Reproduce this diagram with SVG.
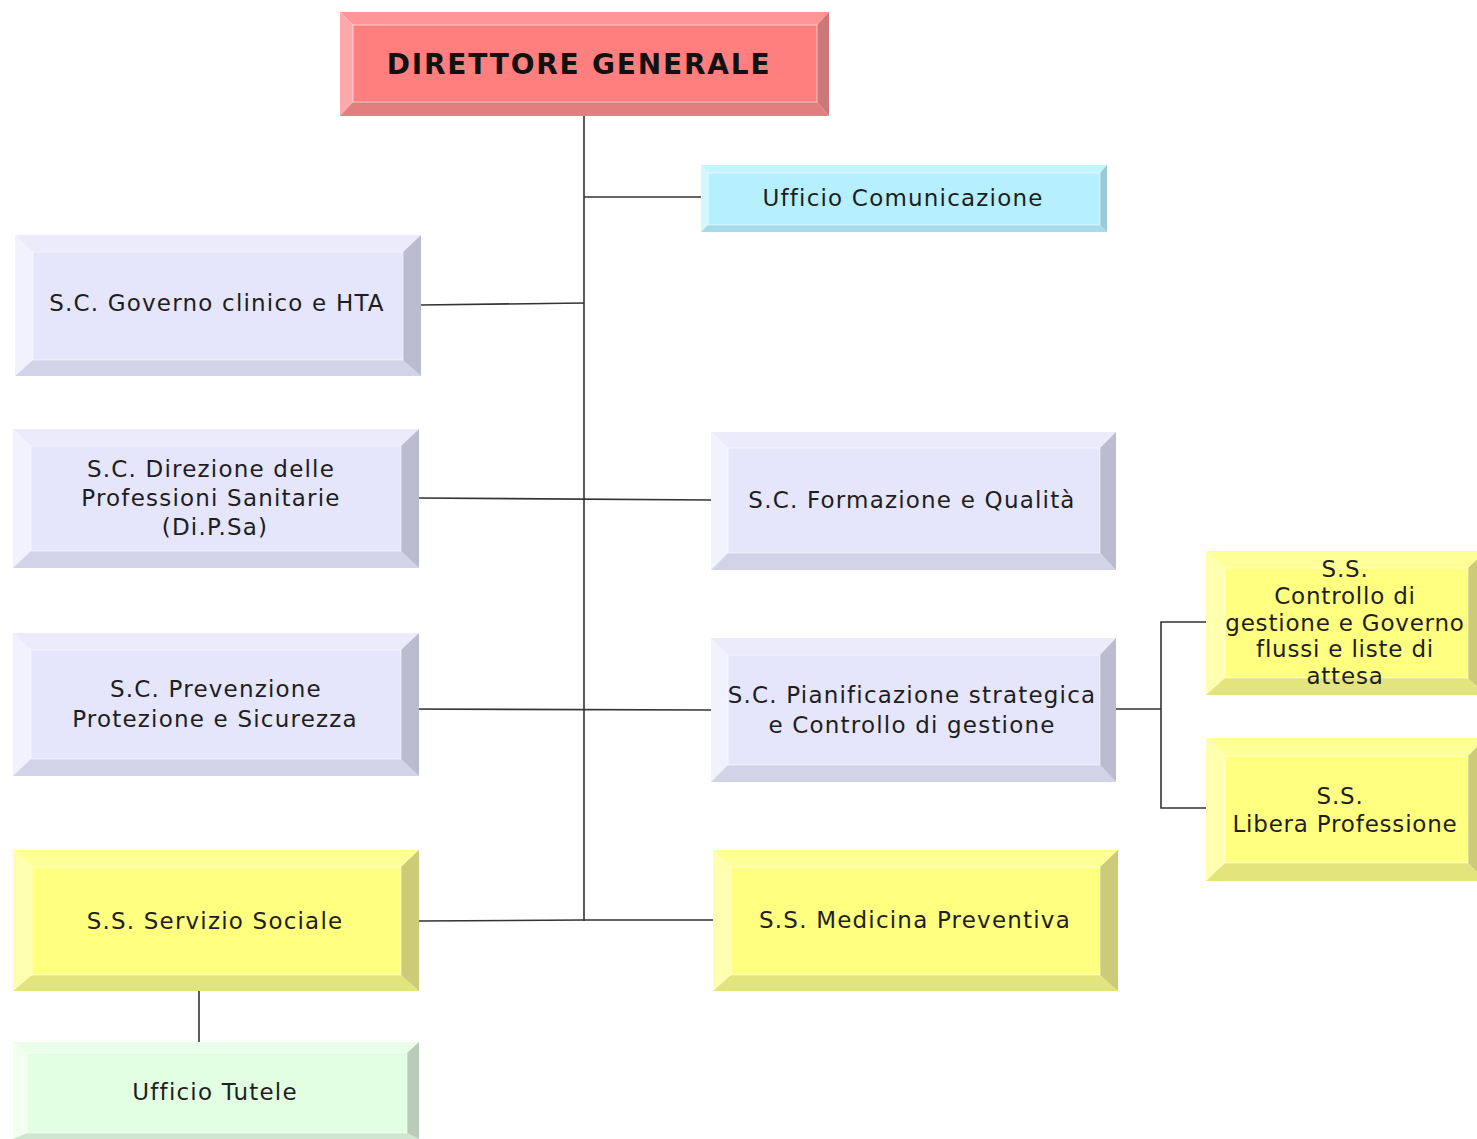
<svg xmlns="http://www.w3.org/2000/svg" width="1477" height="1139" viewBox="0 0 1477 1139">
<style>
text{font-family:"DejaVu Sans","Verdana",sans-serif;font-size:23px;letter-spacing:1.2px;fill:#1e1e1e;text-anchor:middle}
.dg{font-weight:bold;font-size:28px;letter-spacing:1.8px;fill:#111}
.sm{letter-spacing:0.8px}
.ln{stroke:#333;stroke-width:1.6;fill:none}
.hl{fill:none;stroke:#ffffff;stroke-opacity:0.55;stroke-width:1}
.red .f{fill:#ff7f7f}.red .t{fill:#ff9696}.red .l{fill:#ffaaaa}.red .b{fill:#e27e7e}.red .r{fill:#cc7878}
.lav .f{fill:#e5e5fb}.lav .t{fill:#ebebfc}.lav .l{fill:#f2f2fe}.lav .b{fill:#d2d2e8}.lav .r{fill:#bcbcd0}
.cyan .f{fill:#b6f0ff}.cyan .t{fill:#c4f4ff}.cyan .l{fill:#d4f7ff}.cyan .b{fill:#a6dcea}.cyan .r{fill:#9bcad6}
.yel .f{fill:#ffff80}.yel .t{fill:#ffff98}.yel .l{fill:#ffffb0}.yel .b{fill:#e4e47c}.yel .r{fill:#cccc78}
.grn .f{fill:#e3ffe3}.grn .t{fill:#eaffea}.grn .l{fill:#f0fff0}.grn .b{fill:#d0e6d0}.grn .r{fill:#b9ccb9}
</style>
<g id="connectors">
<path class="ln" d="M584 116V921"/>
<path class="ln" d="M584 197H701"/>
<path class="ln" d="M421 305L584 303"/>
<path class="ln" d="M419 498L711 500"/>
<path class="ln" d="M403 709L711 710"/>
<path class="ln" d="M419 921L584 920H713"/>
<path class="ln" d="M1116 709H1161M1206 622H1161V808H1206"/>
<path class="ln" d="M199 991V1042"/>
</g>
<g id="n-dg" class="red">
<polygon class="t" points="340,12 829,12 817,25 353,25"/><polygon class="l" points="340,12 353,25 353,102 340,116"/><polygon class="b" points="340,116 353,102 817,102 829,116"/><polygon class="r" points="829,12 829,116 817,102 817,25"/><rect class="f" x="353" y="25" width="464" height="77"/><rect class="hl" x="353" y="25" width="464" height="77"/>
<text class="dg" x="579" y="74">DIRETTORE GENERALE</text>
</g>
<g id="n-com" class="cyan">
<polygon class="t" points="701,165 1107,165 1100,173 708,173"/><polygon class="l" points="701,165 708,173 708,225 701,232"/><polygon class="b" points="701,232 708,225 1100,225 1107,232"/><polygon class="r" points="1107,165 1107,232 1100,225 1100,173"/><rect class="f" x="708" y="173" width="392" height="52"/><rect class="hl" x="708" y="173" width="392" height="52"/>
<text x="903" y="206">Ufficio Comunicazione</text>
</g>
<g id="n-gov" class="lav">
<polygon class="t" points="15,235 421,235 403,252 33,252"/><polygon class="l" points="15,235 33,252 33,360 15,376"/><polygon class="b" points="15,376 33,360 403,360 421,376"/><polygon class="r" points="421,235 421,376 403,360 403,252"/><rect class="f" x="33" y="252" width="370" height="108"/><rect class="hl" x="33" y="252" width="370" height="108"/>
<text x="217" y="311">S.C. Governo clinico e HTA</text>
</g>
<g id="n-dipsa" class="lav">
<polygon class="t" points="13,429 419,429 401,446 31,446"/><polygon class="l" points="13,429 31,446 31,551 13,568"/><polygon class="b" points="13,568 31,551 401,551 419,568"/><polygon class="r" points="419,429 419,568 401,551 401,446"/><rect class="f" x="31" y="446" width="370" height="105"/><rect class="hl" x="31" y="446" width="370" height="105"/>
<text x="211" y="477">S.C. Direzione delle</text><text x="211" y="506">Professioni Sanitarie</text><text x="215" y="535">(Di.P.Sa)</text>
</g>
<g id="n-form" class="lav">
<polygon class="t" points="711,432 1116,432 1100,448 728,448"/><polygon class="l" points="711,432 728,448 728,553 711,570"/><polygon class="b" points="711,570 728,553 1100,553 1116,570"/><polygon class="r" points="1116,432 1116,570 1100,553 1100,448"/><rect class="f" x="728" y="448" width="372" height="105"/><rect class="hl" x="728" y="448" width="372" height="105"/>
<text x="912" y="508">S.C. Formazione e Qualità</text>
</g>
<g id="n-prev" class="lav">
<polygon class="t" points="13,633 419,633 401,650 31,650"/><polygon class="l" points="13,633 31,650 31,759 13,776"/><polygon class="b" points="13,776 31,759 401,759 419,776"/><polygon class="r" points="419,633 419,776 401,759 401,650"/><rect class="f" x="31" y="650" width="370" height="109"/><rect class="hl" x="31" y="650" width="370" height="109"/>
<text x="216" y="697">S.C. Prevenzione</text><text x="215" y="727">Protezione e Sicurezza</text>
</g>
<g id="n-pian" class="lav">
<polygon class="t" points="711,638 1116,638 1100,655 728,655"/><polygon class="l" points="711,638 728,655 728,765 711,782"/><polygon class="b" points="711,782 728,765 1100,765 1116,782"/><polygon class="r" points="1116,638 1116,782 1100,765 1100,655"/><rect class="f" x="728" y="655" width="372" height="110"/><rect class="hl" x="728" y="655" width="372" height="110"/>
<text x="912" y="703">S.C. Pianificazione strategica</text><text x="912" y="733">e Controllo di gestione</text>
</g>
<g id="n-ctrl" class="yel">
<polygon class="t" points="1206,551 1486,551 1468,568 1225,568"/><polygon class="l" points="1206,551 1225,568 1225,678 1206,695"/><polygon class="b" points="1206,695 1225,678 1468,678 1486,695"/><polygon class="r" points="1486,551 1486,695 1468,678 1468,568"/><rect class="f" x="1225" y="568" width="243" height="110"/><rect class="hl" x="1225" y="568" width="243" height="110"/>
<text class="sm" x="1345" y="577">S.S.</text><text class="sm" x="1345" y="604">Controllo di</text><text class="sm" x="1345" y="631">gestione e Governo</text><text class="sm" x="1345" y="657">flussi e liste di</text><text class="sm" x="1345" y="684">attesa</text>
</g>
<g id="n-lib" class="yel">
<polygon class="t" points="1206,738 1486,738 1468,756 1225,756"/><polygon class="l" points="1206,738 1225,756 1225,863 1206,881"/><polygon class="b" points="1206,881 1225,863 1468,863 1486,881"/><polygon class="r" points="1486,738 1486,881 1468,863 1468,756"/><rect class="f" x="1225" y="756" width="243" height="107"/><rect class="hl" x="1225" y="756" width="243" height="107"/>
<text class="sm" x="1340" y="804">S.S.</text><text class="sm" x="1345" y="832">Libera Professione</text>
</g>
<g id="n-serv" class="yel">
<polygon class="t" points="13,850 419,850 401,867 32,867"/><polygon class="l" points="13,850 32,867 32,975 13,991"/><polygon class="b" points="13,991 32,975 401,975 419,991"/><polygon class="r" points="419,850 419,991 401,975 401,867"/><rect class="f" x="32" y="867" width="369" height="108"/><rect class="hl" x="32" y="867" width="369" height="108"/>
<text x="215" y="929">S.S. Servizio Sociale</text>
</g>
<g id="n-med" class="yel">
<polygon class="t" points="713,850 1118,850 1100,867 731,867"/><polygon class="l" points="713,850 731,867 731,975 713,991"/><polygon class="b" points="713,991 731,975 1100,975 1118,991"/><polygon class="r" points="1118,850 1118,991 1100,975 1100,867"/><rect class="f" x="731" y="867" width="369" height="108"/><rect class="hl" x="731" y="867" width="369" height="108"/>
<text x="915" y="928">S.S. Medicina Preventiva</text>
</g>
<g id="n-tut" class="grn">
<polygon class="t" points="13,1042 419,1042 407,1053 27,1053"/><polygon class="l" points="13,1042 27,1053 27,1133 13,1139"/><polygon class="b" points="13,1139 27,1133 407,1133 419,1139"/><polygon class="r" points="419,1042 419,1139 407,1133 407,1053"/><rect class="f" x="27" y="1053" width="380" height="80"/><rect class="hl" x="27" y="1053" width="380" height="80"/>
<text x="215" y="1100">Ufficio Tutele</text>
</g>
</svg>
